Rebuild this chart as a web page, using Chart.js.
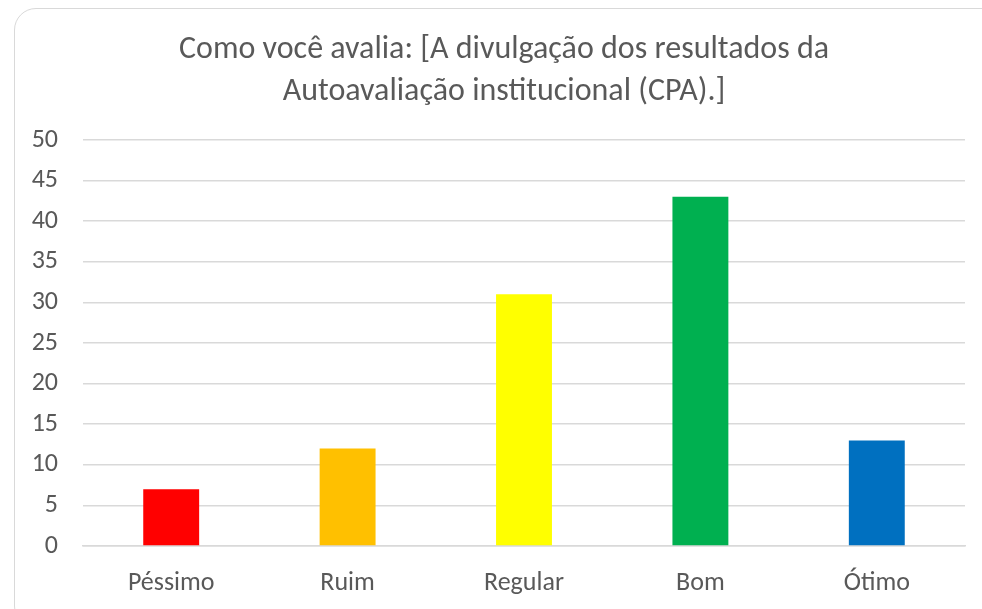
<!DOCTYPE html>
<html>
<head>
<meta charset="utf-8">
<script src="https://cdn.jsdelivr.net/npm/chart.js@4"></script>
<style>
  html, body { margin: 0; padding: 0; background: #fff; overflow: hidden; }
  #wrap { position: relative; width: 982px; height: 609px; }
  #frame { position: absolute; left: 14px; top: 8px; width: 990px; height: 620px;
           border: 1.5px solid #d9d9d9; border-radius: 22px; box-sizing: border-box; }
  canvas { position: absolute; left: 0; top: 0; }
</style>
</head>
<body>
<div id="wrap">
  <div id="frame"></div>
  <canvas id="c" width="982" height="609"></canvas>
</div>
<script>
const titleLines = ["Como você avalia: [A divulgação dos resultados da", "Autoavaliação institucional (CPA).]"];
const categories = ["Péssimo", "Ruim", "Regular", "Bom", "Ótimo"];
const values = [7, 12, 31, 43, 13];
const barColors = ["#ff0000", "#ffc000", "#ffff00", "#00b050", "#0070c0"];
const yMin = 0, yMax = 50, yStep = 5;

const FONT = "'Carlito', 'Lato', sans-serif";
const TEXT = "#595959";

const shiftTitle = {
  id: 'shiftTitle',
  afterLayout(chart) {
    const t = chart.titleBlock;
    if (t) { t.left = 43; t.right = 965; }
  }
};

new Chart(document.getElementById('c'), {
  type: 'bar',
  data: {
    labels: categories,
    datasets: [{
      data: values,
      backgroundColor: barColors,
      categoryPercentage: 1,
      barPercentage: 0.317
    }]
  },
  plugins: [shiftTitle],
  options: {
    responsive: false,
    animation: false,
    devicePixelRatio: 1,
    layout: { padding: { left: 0, right: 17, top: 0, bottom: 0 } },
    plugins: {
      legend: { display: false },
      tooltip: { enabled: false },
      title: {
        display: true,
        text: titleLines,
        color: TEXT,
        font: { family: FONT, size: 32, weight: 'normal', lineHeight: 1.3125 },
        padding: { top: 29, bottom: 27 }
      }
    },
    scales: {
      x: {
        grid: { display: false, drawTicks: false },
        border: { display: true, color: '#d9d9d9', width: 1.5 },
        ticks: { color: TEXT, font: { family: FONT, size: 26 }, padding: 22 },
        afterFit: s => { s.height = 63; }
      },
      y: {
        min: yMin, max: yMax,
        grid: { color: '#d9d9d9', lineWidth: 1.5, drawTicks: false },
        border: { display: false },
        ticks: { stepSize: yStep, color: TEXT, font: { family: FONT, size: 26 }, padding: 25 },
        afterFit: s => { s.width = 83; }
      }
    }
  }
});
</script>
</body>
</html>
